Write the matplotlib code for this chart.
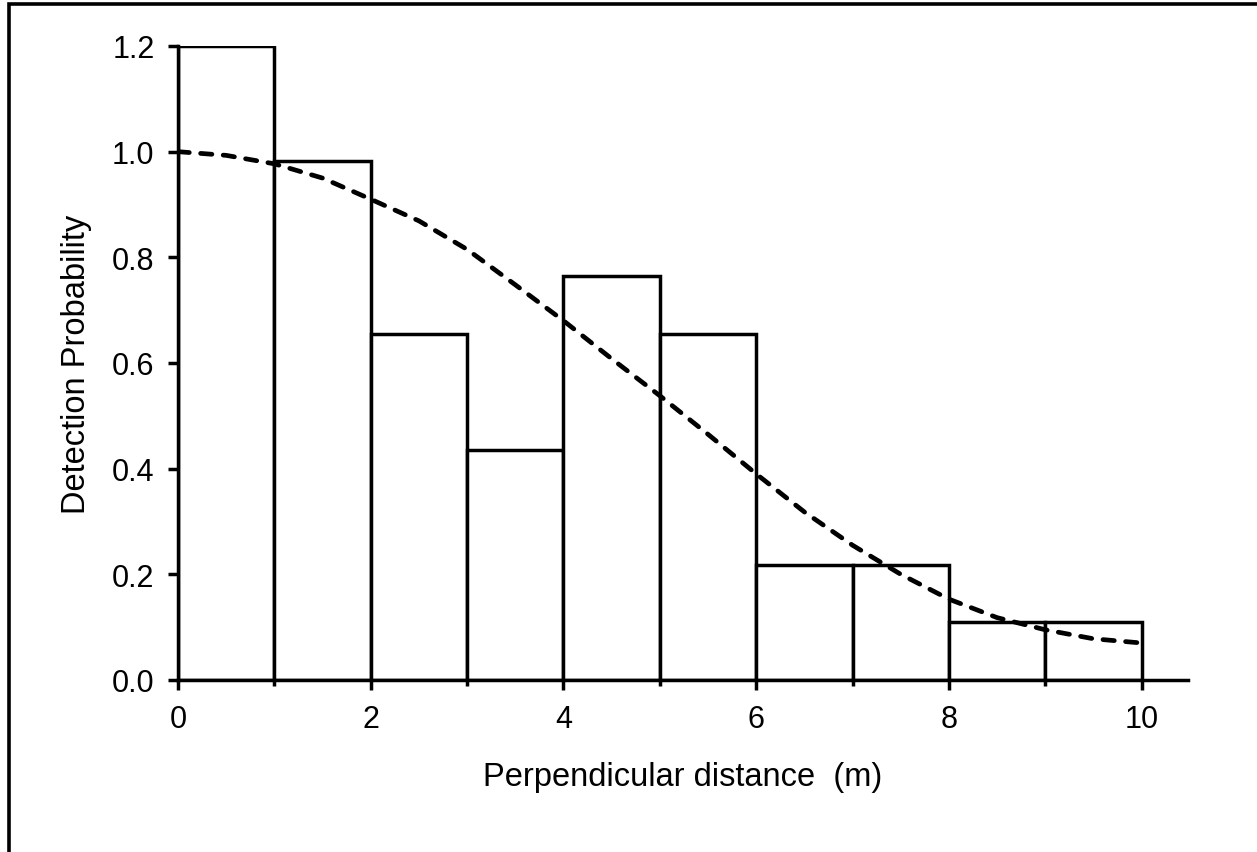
import matplotlib
matplotlib.use("Agg")
import matplotlib.pyplot as plt
import matplotlib.patches as patches
import numpy as np

plt.rcParams['font.family'] = ['Liberation Sans', 'DejaVu Sans']

# histogram of detections per 1 m distance class (scaled)
binLeft = [0, 1, 2, 3, 4, 5, 6, 7, 8, 9]
binHeight = [1.2, 0.982, 0.655, 0.436, 0.764, 0.655, 0.218, 0.218, 0.109, 0.109]

# fitted detection function
curveX = [0, 0.5, 1, 1.5, 2, 2.5, 3, 3.5, 4, 4.5, 5,
          5.5, 6, 6.5, 7, 7.5, 8, 8.5, 9, 9.5, 10]
curveY = [1.0, 0.993, 0.977, 0.95, 0.91, 0.869, 0.815, 0.748, 0.68, 0.608, 0.538,
          0.465, 0.39, 0.318, 0.255, 0.2, 0.153, 0.118, 0.095, 0.078, 0.07]

xTicks = [0, 2, 4, 6, 8, 10]
yTicks = [0.0, 0.2, 0.4, 0.6, 0.8, 1.0, 1.2]

fig = plt.figure(figsize=(12.57, 8.53), dpi=100)
ax = fig.add_axes([178/1257, 1 - 681/853, (1188-178)/1257, (681-47)/853])

ax.bar(binLeft, binHeight, width=1, align='edge', color='white',
       edgecolor='black', linewidth=2.5, zorder=2)
line, = ax.plot(curveX, curveY, color='black', linewidth=3.4, zorder=3)
line.set_dashes((2.4, 2.4))
line.set_dash_capstyle('round')

ax.set_xlim(0, 10.48)
ax.set_ylim(0, 1.2)
ax.set_xticks(xTicks)
ax.set_xticks([1, 3, 5, 7, 9], minor=True)
ax.set_yticks(yTicks)
ax.set_yticklabels([f"{v:.1f}" for v in yTicks])
ax.tick_params(axis='both', which='major', direction='out', length=7, width=2.5,
               labelsize=22, color='black')
ax.tick_params(axis='x', which='major', pad=10)
ax.tick_params(axis='y', which='major', pad=10)
ax.tick_params(axis='x', which='minor', direction='out', length=4.5, width=2.5)

for side in ['top', 'right']:
    ax.spines[side].set_visible(False)
for side in ['left', 'bottom']:
    ax.spines[side].set_linewidth(2.5)

ax.set_xlabel("Perpendicular distance  (m)", fontsize=23.5, labelpad=20)
ax.set_ylabel("Detection Probability", fontsize=23.5, labelpad=14)

# outer border around the chart
fig.add_artist(patches.Rectangle((9/1257, -0.5), 2, 1.5 - 5/853, fill=False,
                                 edgecolor='black', linewidth=2.6,
                                 transform=fig.transFigure, clip_on=False))

fig.savefig("out.png", dpi=100)
